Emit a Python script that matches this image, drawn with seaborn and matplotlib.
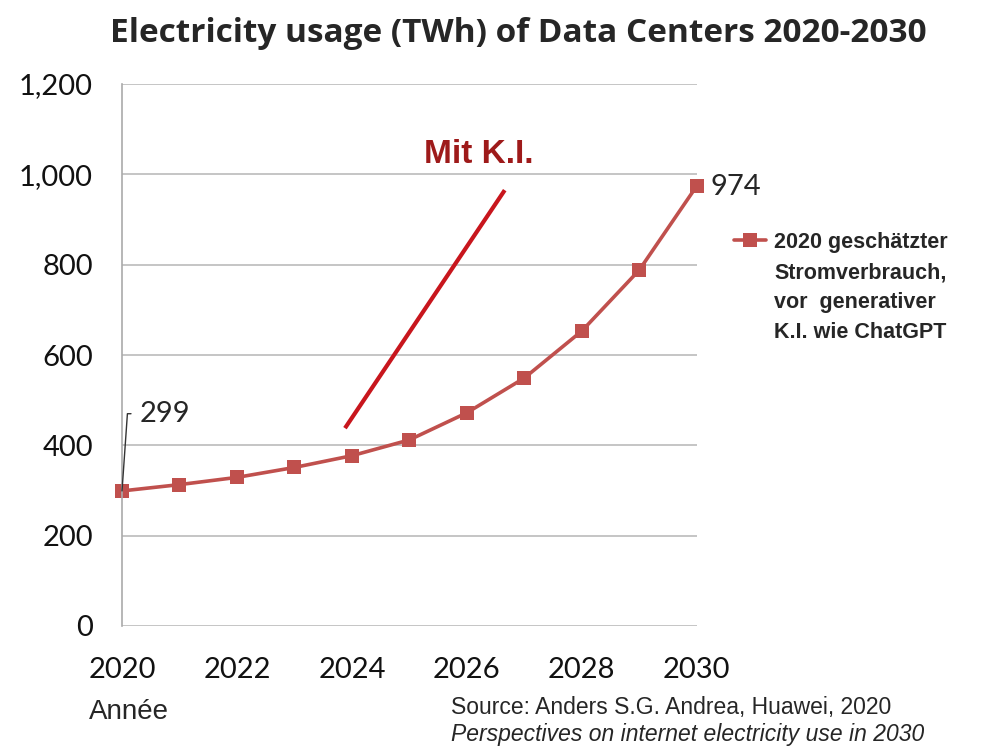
import matplotlib
matplotlib.use("Agg")
import matplotlib.pyplot as plt
import seaborn as sns
import pandas as pd

years = [2020, 2021, 2022, 2023, 2024, 2025, 2026, 2027, 2028, 2029, 2030]
usage_twh = [299, 313, 329, 351, 377, 412, 472, 549, 653, 788, 974]
ki_years = [2023.88, 2026.66]
ki_twh = [438, 965]
y_ticks = [0, 200, 400, 600, 800, 1000, 1200]
x_ticks = [2020, 2022, 2024, 2026, 2028, 2030]

series_label = "2020 geschätzter\nStromverbrauch,\nvor  generativer\nK.I. wie ChatGPT"

df = pd.DataFrame({"Jahr": years, "TWh": usage_twh})
ki = pd.DataFrame({"Jahr": ki_years, "TWh": ki_twh})

sns.set_style("white")
plt.rcParams["font.family"] = ["Lato", "DejaVu Sans"]

fig = plt.figure(figsize=(9.84, 7.53), dpi=100)
ax = fig.add_axes([0.124, 0.1687, 0.584, 0.7197])

line_red = "#C0504D"
arial = ["Liberation Sans", "DejaVu Sans"]

sns.lineplot(
    data=df, x="Jahr", y="TWh",
    color=line_red, linewidth=2.6,
    marker="s", markersize=9.5, markeredgewidth=0,
    label=series_label, ax=ax, clip_on=False
)

sns.lineplot(
    data=ki, x="Jahr", y="TWh",
    color="#C8161D", linewidth=3,
    legend=False, ax=ax, solid_capstyle="butt"
)

ax.set_xlim(2020, 2030)
ax.set_ylim(0, 1200)
ax.set_yticks(y_ticks)
ax.set_yticklabels([f"{v:,}" for v in y_ticks])
ax.set_xticks(x_ticks)
ax.tick_params(axis="both", length=0, labelsize=21, colors="#111111")
ax.tick_params(axis="y", pad=21)
ax.tick_params(axis="x", pad=22)
ax.grid(axis="y", color="#BBBBBB", linewidth=1.2)
ax.set_xlabel("")
ax.set_ylabel("")

for side in ["top", "right", "bottom"]:
    ax.spines[side].set_visible(False)
ax.spines["left"].set_color("#AAAAAA")
ax.spines["left"].set_linewidth(1.2)

# data labels
ax.annotate(
    f"{usage_twh[0]}",
    xy=(years[0], usage_twh[0]),
    xytext=(2020.31, 470),
    fontsize=21, va="center", ha="left",
    arrowprops=dict(arrowstyle="-", color="#333333", lw=1,
                    connectionstyle="angle,angleA=0,angleB=86,rad=0",
                    shrinkA=4, shrinkB=0)
)
ax.annotate(
    f"{usage_twh[-1]}",
    xy=(years[-1], usage_twh[-1]),
    xytext=(10, -1), textcoords="offset points",
    fontsize=21, va="center", ha="left"
)

ax.text(2026.2, 1045, "Mit K.I.", color="#9E1A1A", fontsize=24,
        fontweight="bold", ha="center", va="center", family=arial)

leg = ax.legend(
    loc="upper left", bbox_to_anchor=(1.031, 0.762),
    frameon=False, handlelength=1.5, handletextpad=0.37,
    prop={"family": arial, "weight": "bold", "size": 15.5}
)
for txt in leg.get_texts():
    txt.set_linespacing(1.55)
# handle next to the first line of the label, like the original
for col in leg._legend_handle_box.get_children():
    for row in col.get_children():
        row.align = "top"

fig.text(0.527, 0.955, "Electricity usage (TWh) of Data Centers 2020-2030",
         ha="center", va="center", fontsize=24, fontweight="bold",
         family=["Open Sans", "DejaVu Sans"])

fig.text(0.09, 0.055, "Année", fontsize=20, ha="left", va="center",
         family=arial)
fig.text(0.458, 0.060, "Source: Anders S.G. Andrea, Huawei, 2020",
         fontsize=16.5, ha="left", va="center", family=arial)
fig.text(0.458, 0.025, "Perspectives on internet electricity use in 2030",
         fontsize=16.5, ha="left", va="center", style="italic",
         family=arial)

fig.savefig("out.png", dpi=100, facecolor="white")
plt.close(fig)
